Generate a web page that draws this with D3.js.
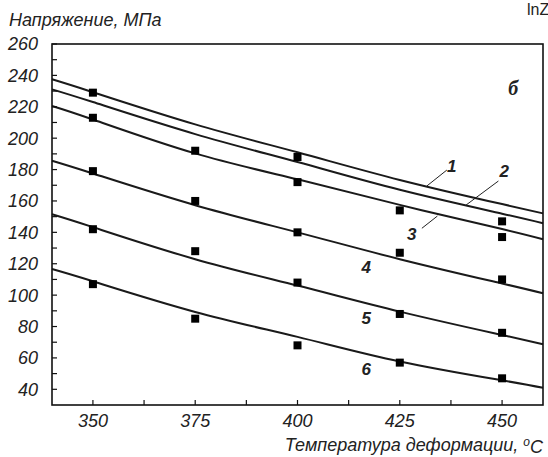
<!DOCTYPE html>
<html>
<head>
<meta charset="utf-8">
<script src="https://cdn.jsdelivr.net/npm/d3@7"></script>
<style>
body { margin: 0; background: #fff; }
svg { display: block; }
text { font-family: "Liberation Sans", Arial, sans-serif; fill: #222; }
</style>
</head>
<body>
<div id="chart"></div>
<script>
var SVGWidth = 548;
var SVGHeight = 457;

// temperatures along each fitted curve
var curveTemps = [340, 350, 375, 400, 425, 450, 460];

// fitted curves 1..6 (stress, MPa)
var curve1 = [237.5, 229.3, 208.8, 191.0, 173.4, 158.0, 152.1];
var curve2 = [231.1, 223.0, 202.6, 184.8, 167.1, 151.9, 145.8];
var curve3 = [220.5, 211.9, 190.3, 173.8, 157.5, 142.1, 135.6];
var curve4 = [185.6, 177.5, 157.3, 140.0, 122.9, 107.4, 101.2];
var curve5 = [151.5, 143.3, 122.9, 106.1, 89.5, 74.6, 68.7];
var curve6 = [116.6, 108.8, 89.3, 73.4, 57.7, 45.7, 41.0];
var curves = [curve1, curve2, curve3, curve4, curve5, curve6];

// measured points: temperature and stress
var pointTemps  = [350, 350, 350, 350, 350, 375, 375, 375, 375, 400, 400, 400, 400, 400, 425, 425, 425, 425, 450, 450, 450, 450, 450];
var pointStress = [229, 213, 179, 142, 107, 192, 160, 128, 85, 188, 172, 140, 108, 68, 154, 127, 88, 57, 147, 137, 110, 76, 47];

var xTicks = [350, 375, 400, 425, 450];
var xMinor = [362.5, 387.5, 412.5, 437.5];
var yTicks = [40, 60, 80, 100, 120, 140, 160, 180, 200, 220, 240, 260];
var yMinor = [50, 70, 90, 110, 130, 150, 170, 190, 210, 230, 250];

// curve number labels: [text, T, stress]
var curveLabels = [["1", 437.7, 178.4], ["2", 450.5, 175.3], ["3", 427.9, 135.1],
                   ["4", 416.8, 114.1], ["5", 416.8, 81.6], ["6", 416.8, 49.1]];
// leader lines for labels 1..3: [T1, s1, T2, s2]
var leaders = [[436.5, 179.7, 431.6, 169.5], [449.1, 172.7, 441.2, 157.4], [430.4, 142.6, 434.2, 150.4]];

var plotLeft = 52, plotRight = 543, plotTop = 44, plotBottom = 405;

var x = d3.scaleLinear().domain([340, 460]).range([plotLeft, plotRight]);
var y = d3.scaleLinear().domain([30, 260]).range([plotBottom, plotTop]);

var svg = d3.select("#chart").append("svg")
    .attr("width", SVGWidth)
    .attr("height", SVGHeight);

// curves
var line = d3.line()
    .x(function(d, i) { return x(curveTemps[i]); })
    .y(function(d) { return y(d); })
    .curve(d3.curveNatural);

svg.selectAll(".curve")
    .data(curves)
    .enter()
    .append("path")
    .attr("class", "curve")
    .attr("fill", "none")
    .attr("stroke", "#1a1a1a")
    .attr("stroke-width", 2)
    .attr("d", line);

// points
svg.selectAll(".pt")
    .data(pointTemps)
    .enter()
    .append("rect")
    .attr("class", "pt")
    .attr("x", function(d) { return x(d) - 4; })
    .attr("y", function(d, i) { return y(pointStress[i]) - 4; })
    .attr("width", 8)
    .attr("height", 8)
    .attr("fill", "#000");

// leaders
svg.selectAll(".leader")
    .data(leaders)
    .enter()
    .append("line")
    .attr("x1", function(d) { return x(d[0]); })
    .attr("y1", function(d) { return y(d[1]); })
    .attr("x2", function(d) { return x(d[2]); })
    .attr("y2", function(d) { return y(d[3]); })
    .attr("stroke", "#222")
    .attr("stroke-width", 1);

svg.selectAll(".clabel")
    .data(curveLabels)
    .enter()
    .append("text")
    .attr("x", function(d) { return x(d[1]); })
    .attr("y", function(d) { return y(d[2]); })
    .attr("text-anchor", "middle")
    .style("font-size", "17px")
    .style("font-style", "italic")
    .style("font-weight", "bold")
    .text(function(d) { return d[0]; });

// ticks (inward)
var tickLen = 5;
svg.selectAll(".xt")
    .data(xTicks.concat(xMinor))
    .enter()
    .append("line")
    .attr("x1", function(d) { return x(d); })
    .attr("x2", function(d) { return x(d); })
    .attr("y1", plotBottom)
    .attr("y2", plotBottom - tickLen)
    .attr("stroke", "#111")
    .attr("stroke-width", 1.2);

svg.selectAll(".yt")
    .data(yTicks.concat(yMinor))
    .enter()
    .append("line")
    .attr("x1", plotLeft)
    .attr("x2", plotLeft + tickLen)
    .attr("y1", function(d) { return y(d); })
    .attr("y2", function(d) { return y(d); })
    .attr("stroke", "#111")
    .attr("stroke-width", 1.2);

// frame
svg.append("rect")
    .attr("x", plotLeft)
    .attr("y", plotTop)
    .attr("width", plotRight - plotLeft)
    .attr("height", plotBottom - plotTop)
    .attr("fill", "none")
    .attr("stroke", "#111")
    .attr("stroke-width", 1.6);

// tick labels
svg.selectAll(".xl")
    .data(xTicks)
    .enter()
    .append("text")
    .attr("x", function(d) { return x(d); })
    .attr("y", 427)
    .attr("text-anchor", "middle")
    .style("font-size", "18px")
    .style("font-style", "italic")
    .text(function(d) { return d; });

svg.selectAll(".yl")
    .data(yTicks)
    .enter()
    .append("text")
    .attr("x", 38)
    .attr("y", function(d) { return y(d); })
    .attr("dy", "0.36em")
    .attr("text-anchor", "end")
    .style("font-size", "18px")
    .style("font-style", "italic")
    .text(function(d) { return d; });

// titles
svg.append("text")
    .attr("x", 9)
    .attr("y", 26)
    .style("font-size", "18px")
    .style("font-style", "italic")
    .text("Напряжение, МПа");

var xt = svg.append("text")
    .attr("x", 543)
    .attr("y", 451)
    .attr("text-anchor", "end")
    .style("font-size", "18px")
    .style("font-style", "italic");
xt.append("tspan").text("Температура деформации, ");
xt.append("tspan").attr("dy", "-0.4em").style("font-size", "12px").text("o");
xt.append("tspan").attr("dy", "0.4em").text("C");

svg.append("text")
    .attr("x", x(451.5))
    .attr("y", y(227.5))
    .style("font-family", "'Liberation Serif', 'DejaVu Serif', serif")
    .style("font-size", "20px")
    .style("font-style", "italic")
    .style("font-weight", "bold")
    .text("б");

// cut-off label at the top-right corner, as in the source image
svg.append("text")
    .attr("x", 527)
    .attr("y", 15)
    .style("font-size", "16px")
    .text("lnZ");
</script>
</body>
</html>
